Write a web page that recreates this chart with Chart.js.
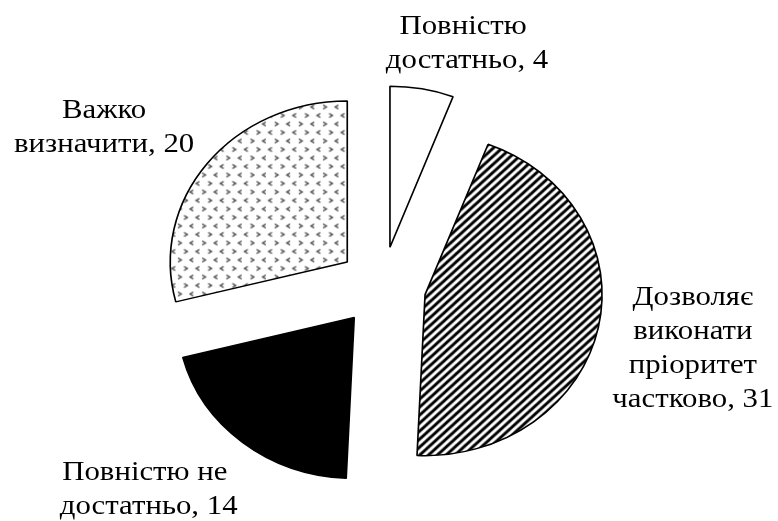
<!DOCTYPE html>
<html><head><meta charset="utf-8">
<script src="https://cdn.jsdelivr.net/npm/chart.js@4.4.0/dist/chart.umd.min.js"></script>
<style>html,body{margin:0;padding:0;background:#fff;}canvas{display:block;}</style>
</head><body>
<canvas id="c" width="778" height="521"></canvas>
<script>
// ---- data ----
const categoriesWrapped = ['Повністю |достатньо', 'Дозволяє|виконати|пріоритет|частково', 'Повністю не |достатньо', 'Важко|визначити'];
const categories = categoriesWrapped.map(s => s.replace(/\|/g, '').replace(/ +/g, ' ').trim());
const values = [4, 31, 14, 20];
const labelLines = categoriesWrapped.map((s, i) => (s + ', ' + values[i]).split('|'));

// ---- layout / style ----
const stretchX = 177 / 161;      // horizontal stretch of the pie (ellipse)
const explode = 40;              // explosion distance (unscaled px)
const fontSize = 28;
const textStretch = 1.1;
const lineHeight = 34;
const labelShift = [[41, -27], [73, 16.5], [-80, 31], [-86, -24]];

const canvas = document.getElementById('c');
const ctx0 = canvas.getContext('2d');

function stripePattern() {
  const t = document.createElement('canvas'); t.width = 8; t.height = 8;
  const g = t.getContext('2d');
  g.fillStyle = '#fff'; g.fillRect(0, 0, 8, 8);
  g.strokeStyle = '#000'; g.lineWidth = 2.8;
  g.beginPath();
  for (const k of [-8, 0, 8]) { g.moveTo(k - 2, 10); g.lineTo(k + 10, -2); }
  g.stroke();
  return ctx0.createPattern(t, 'repeat');
}
function divotPattern() {
  const W = 22, H = 17;
  const t = document.createElement('canvas'); t.width = W; t.height = H;
  const g = t.getContext('2d');
  g.fillStyle = '#fff'; g.fillRect(0, 0, W, H);
  g.strokeStyle = '#444'; g.lineWidth = 1.3;
  function chev(x, y, dir) {
    g.beginPath();
    g.moveTo(x + dir * -1.5, y - 2);
    g.lineTo(x + dir * 1.5, y);
    g.lineTo(x + dir * -1.5, y + 2);
    g.stroke();
  }
  chev(4, 4, -1); chev(15, 4, 1);
  chev(9.5, 12.5, 1); chev(20.5, 12.5, -1);
  return ctx0.createPattern(t, 'repeat');
}

const stretchPlugin = {
  id: 'stretchExplode',
  beforeDatasetDraw(chart, args) {
    const ctx = chart.ctx;
    args.meta.data.forEach(arc => {
      const mid = (arc.startAngle + arc.endAngle) / 2;
      ctx.save();
      ctx.translate(arc.x, arc.y);
      ctx.scale(stretchX, 1);
      ctx.translate(Math.cos(mid) * explode, Math.sin(mid) * explode);
      ctx.translate(-arc.x, -arc.y);
      arc.draw(ctx, chart.chartArea);
      ctx.restore();
    });
    return false;
  }
};

const labelPlugin = {
  id: 'sliceLabels',
  afterDatasetsDraw(chart) {
    const ctx = chart.ctx;
    const meta = chart.getDatasetMeta(0);
    ctx.save();
    ctx.font = fontSize + 'px "Liberation Serif", "Times New Roman", serif';
    ctx.fillStyle = '#000';
    ctx.textAlign = 'center';
    ctx.textBaseline = 'alphabetic';
    meta.data.forEach((arc, i) => {
      const mid = (arc.startAngle + arc.endAngle) / 2;
      const d = arc.outerRadius + explode + 20;
      const ax = arc.x + Math.cos(mid) * d * stretchX + labelShift[i][0];
      const ay = arc.y + Math.sin(mid) * d + labelShift[i][1];
      const lines = labelLines[i];
      lines.forEach((ln, j) => {
        const y = ay + (j - (lines.length - 1) / 2) * lineHeight + 8.5;
        ctx.save();
        ctx.translate(ax, y);
        ctx.scale(textStretch, 1);
        ctx.fillText(ln, 0, 0);
        ctx.restore();
      });
    });
    ctx.restore();
  }
};

new Chart(canvas, {
  type: 'pie',
  data: {
    labels: categories,
    datasets: [{
      data: values,
      backgroundColor: ['#ffffff', stripePattern(), '#000000', divotPattern()],
      borderColor: '#000000',
      borderWidth: 1.5,
      radius: 161
    }]
  },
  options: {
    responsive: false,
    animation: false,
    devicePixelRatio: 1,
    events: [],
    layout: { padding: { left: 0, right: 14, top: 52, bottom: 0 } },
    plugins: { legend: { display: false }, tooltip: { enabled: false } }
  },
  plugins: [stretchPlugin, labelPlugin]
});
</script>
</body></html>
